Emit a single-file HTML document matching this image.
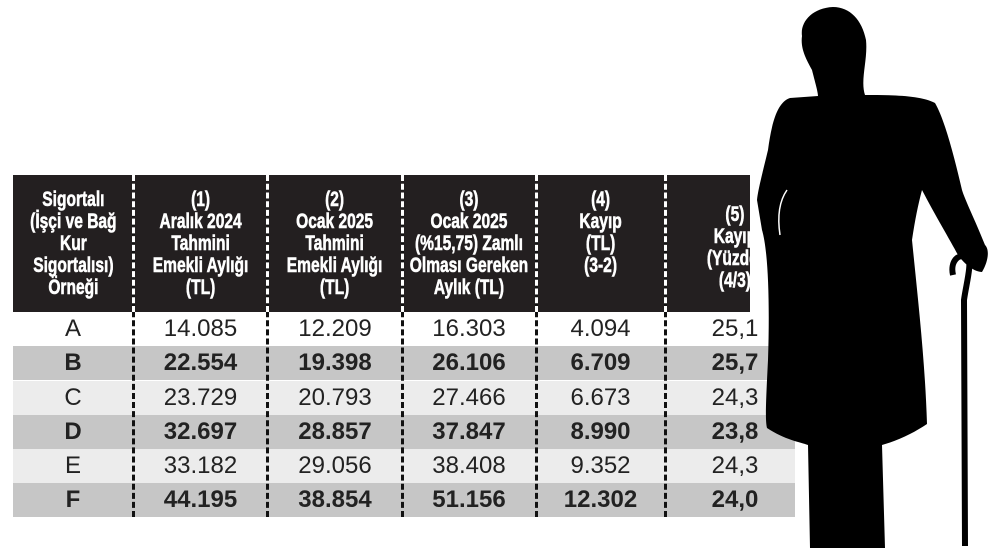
<!DOCTYPE html>
<html><head><meta charset="utf-8"><style>
body{margin:0;width:1000px;height:548px;background:#fff;position:relative;overflow:hidden;font-family:"Liberation Sans",sans-serif}
.hdr{position:absolute;left:13px;top:175px;width:737px;height:137px;background:#231f20}
.row{position:absolute;left:13px;width:782px;height:34px}
.h{position:absolute;top:175px;height:137px;display:flex;align-items:center;justify-content:center;text-align:center;color:#fff;font-weight:bold;font-size:21px;line-height:22px}
.h span{display:inline-block;transform:scaleX(0.74);white-space:nowrap;-webkit-text-stroke:0.6px #fff}
.c{position:absolute;height:34px;line-height:34px;text-align:center;font-size:24px;color:#222}
.b{font-weight:bold}
.vl{position:absolute;top:175px;height:342px;width:0;border-left:3px dashed #111}
.vh{position:absolute;top:175px;height:137px;width:0;border-left:3px dashed #fff}
</style></head><body>
<div class="hdr"></div>
<div class="row" style="top:312px;background:#fff"></div>
<div class="row" style="top:346px;background:#c6c6c6"></div>
<div class="row" style="top:381px;background:#ececec"></div>
<div class="row" style="top:415px;background:#c6c6c6"></div>
<div class="row" style="top:449px;background:#ececec"></div>
<div class="row" style="top:483px;background:#c6c6c6"></div>

<div class="h" style="left:13px;width:120px"><span>Sigortalı<br>(İşçi ve Bağ<br>Kur<br>Sigortalısı)<br>Örneği</span></div>
<div class="h" style="left:133px;width:135px"><span>(1)<br>Aralık 2024<br>Tahmini<br>Emekli Aylığı<br>(TL)</span></div>
<div class="h" style="left:268px;width:134px"><span>(2)<br>Ocak 2025<br>Tahmini<br>Emekli Aylığı<br>(TL)</span></div>
<div class="h" style="left:402px;width:134px"><span>(3)<br>Ocak 2025<br>(%15,75) Zamlı<br>Olması Gereken<br>Aylık (TL)</span></div>
<div class="h" style="left:536px;width:129px;padding-bottom:22px;box-sizing:border-box"><span>(4)<br>Kayıp<br>(TL)<br>(3-2)</span></div>
<div class="h" style="left:665px;width:140px;padding-top:8px;box-sizing:border-box"><span>(5)<br>Kayıp<br>(Yüzde)<br>(4/3)</span></div>

<div class="vl" style="left:132px"></div><div class="vl" style="left:266px"></div><div class="vl" style="left:401px"></div><div class="vl" style="left:535px"></div><div class="vl" style="left:664px"></div>
<div class="vh" style="left:132px"></div><div class="vh" style="left:266px"></div><div class="vh" style="left:401px"></div><div class="vh" style="left:535px"></div><div class="vh" style="left:664px"></div>

<div id="data"></div>
<script>
var rows=[["A","14.085","12.209","16.303","4.094","25,1",0],["B","22.554","19.398","26.106","6.709","25,7",1],["C","23.729","20.793","27.466","6.673","24,3",0],["D","32.697","28.857","37.847","8.990","23,8",1],["E","33.182","29.056","38.408","9.352","24,3",0],["F","44.195","38.854","51.156","12.302","24,0",1]];
var L=[13,133,268,402,536,665],W=[120,135,134,134,129,140],tops=[312,346,381,415,449,483],h="";
rows.forEach(function(r,i){for(var j=0;j<6;j++){h+='<div class="c'+(r[6]?' b':'')+'" style="left:'+L[j]+'px;width:'+W[j]+'px;top:'+tops[i]+'px">'+r[j]+'</div>';}});
document.getElementById("data").innerHTML=h;
</script>

<svg style="position:absolute;left:0;top:0" width="1000" height="548">
<path fill="#000" d="M833,7 C812,8 800,22 802,36 C800,50 808,62 812,70 C815,82 818,92 818,96 L790,98 C778,102 772,120 768,150 C762,175 758,190 757,200 L762,230 C768,250 770,300 768,360 C766,400 765,420 767,428 C785,440 800,442 808,445 L810,548 L885,548 L882,445 C900,440 915,432 927,424 C925,360 918,300 912,240 C915,220 918,205 922,190 C935,215 950,240 958,255 C965,265 975,272 982,272 C988,262 990,250 985,245 C975,220 965,200 962,190 C955,160 945,120 935,103 C920,95 890,95 865,95 C860,80 868,60 866,40 C862,20 850,7 833,7 Z"/>
<path fill="none" stroke="#000" stroke-width="6" d="M953,275 C950,262 958,252 968,258 C972,264 966,285 964,300 L965,546"/>
<path fill="none" stroke="#fff" stroke-width="1.5" d="M787,190 C780,200 777,215 780,235"/>
</svg>
</body></html>
